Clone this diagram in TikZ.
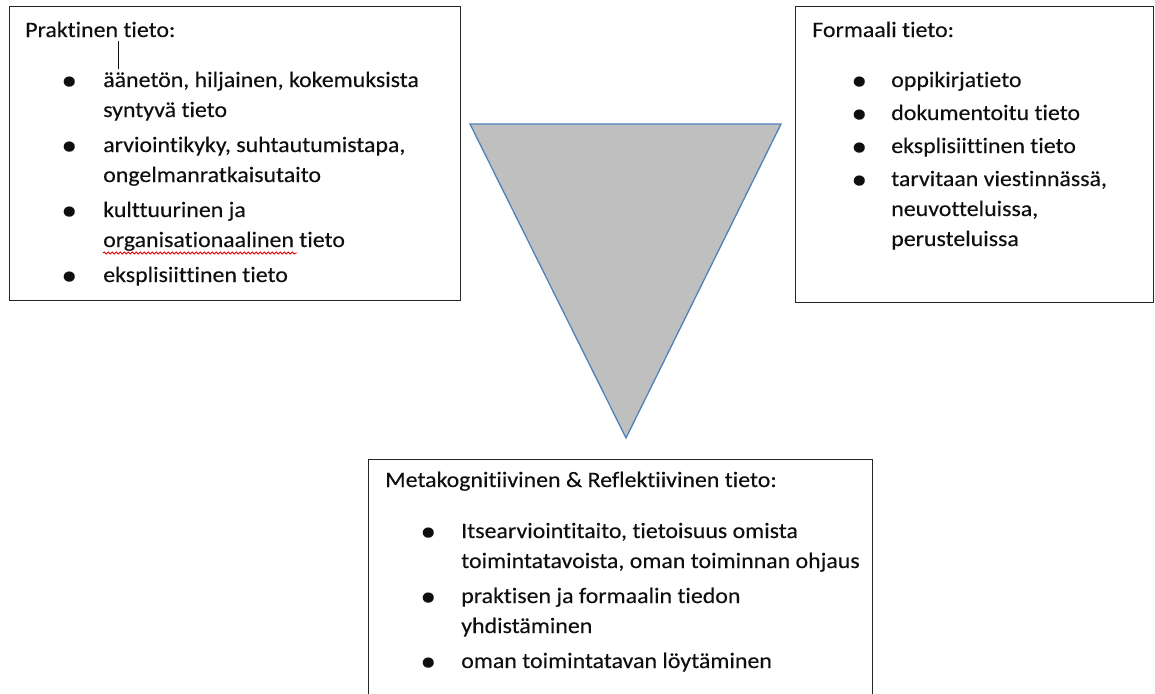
\documentclass[tikz,border=0pt]{standalone}
\usepackage{fontspec}
\setmainfont{Carlito}[Ligatures=NoCommon, FakeStretch=1.085, FakeBold=0.2]
\usetikzlibrary{decorations.pathmorphing}

% one screen pixel
\newlength\px
\setlength\px{0.75pt}
\newcommand\bodyfont{\fontsize{16.5pt}{22.5pt}\selectfont}
% bullet column: bullet centred #1 px in, text #1+#2 px in
\newcommand\itm[2][44]{\hspace*{#1\px}\makebox[0pt][c]{\raisebox{-2.6\px}{\scalebox{1.3}{\textbullet}}}\hspace*{#2\px}}
\newcommand\heading[1]{\multicolumn{2}{@{}l@{}}{#1}}

\definecolor{triFill}{RGB}{191,191,191}
\definecolor{triLine}{RGB}{79,129,189}
\definecolor{inkText}{RGB}{15,15,15}

\tikzset{
  box/.style={draw=black!85, line width=1.2\px, anchor=north west, inner sep=0pt},
  textblock/.style={anchor=base west, inner sep=0pt, font=\bodyfont, text=inkText},
  tri/.style={fill=triFill, draw=triLine, line width=1.3\px, line join=miter},
}

\begin{document}
\begin{tikzpicture}[x=0.75pt, y=-0.75pt]
\useasboundingbox (0,0) rectangle (1155,693);
\clip (0,0) rectangle (1155,693);

% frames
\node[box, minimum width=451\px, minimum height=294\px] (prakt) at (9,6) {};
\node[box, minimum width=358\px, minimum height=296\px] (form) at (795,6) {};
\node[box, minimum width=504\px, minimum height=260\px] (meta) at (368,459) {};

% central funnel
\draw[tri] (470,124) -- (781,124) -- (626,438) -- cycle;

% practical knowledge
\node[textblock] (praktText) at (25,37) {%
\begin{tabular}[t]{@{}l@{}l@{}}
\heading{Praktinen tieto:}\\[20\px]
\itm{34} & äänetön, hiljainen, kokemuksista\\
         & syntyvä tieto\\[5\px]
\itm{34} & arviointikyky, suhtautumistapa,\\
         & ongelmanratkaisutaito\\[5\px]
\itm{34} & kulttuurinen ja\\
         & organisationaalinen tieto\\[5\px]
\itm{34} & eksplisiittinen tieto
\end{tabular}};

% text cursor and spelling mark
\draw[line width=1\px, inkText] (118,41) -- (118,69);
\draw[red!85!black, line width=0.9\px, decorate,
      decoration={snake, segment length=4\px, amplitude=1\px}] (103,253) -- (297,253);

% formal knowledge
\node[textblock] (formText) at (812,37) {%
\begin{tabular}[t]{@{}l@{}l@{}}
\heading{Formaali tieto:}\\[20\px]
\itm[47]{32} & oppikirjatieto\\[3\px]
\itm[47]{32} & dokumentoitu tieto\\[3\px]
\itm[47]{32} & eksplisiittinen tieto\\[3\px]
\itm[47]{32} & tarvitaan viestinnässä,\\
             & neuvotteluissa,\\
             & perusteluissa
\end{tabular}};

% metacognitive knowledge
\node[textblock] (metaText) at (385,487) {%
\begin{tabular}[t]{@{}l@{}l@{}}
\heading{Metakognitiivinen \& Reflektiivinen tieto:}\\[21\px]
\itm[43]{33} & Itsearviointitaito, tietoisuus omista\\
             & toimintatavoista, oman toiminnan ohjaus\\[5\px]
\itm[43]{33} & praktisen ja formaalin tiedon\\
             & yhdistäminen\\[5\px]
\itm[43]{33} & oman toimintatavan löytäminen
\end{tabular}};
\end{tikzpicture}
\end{document}
